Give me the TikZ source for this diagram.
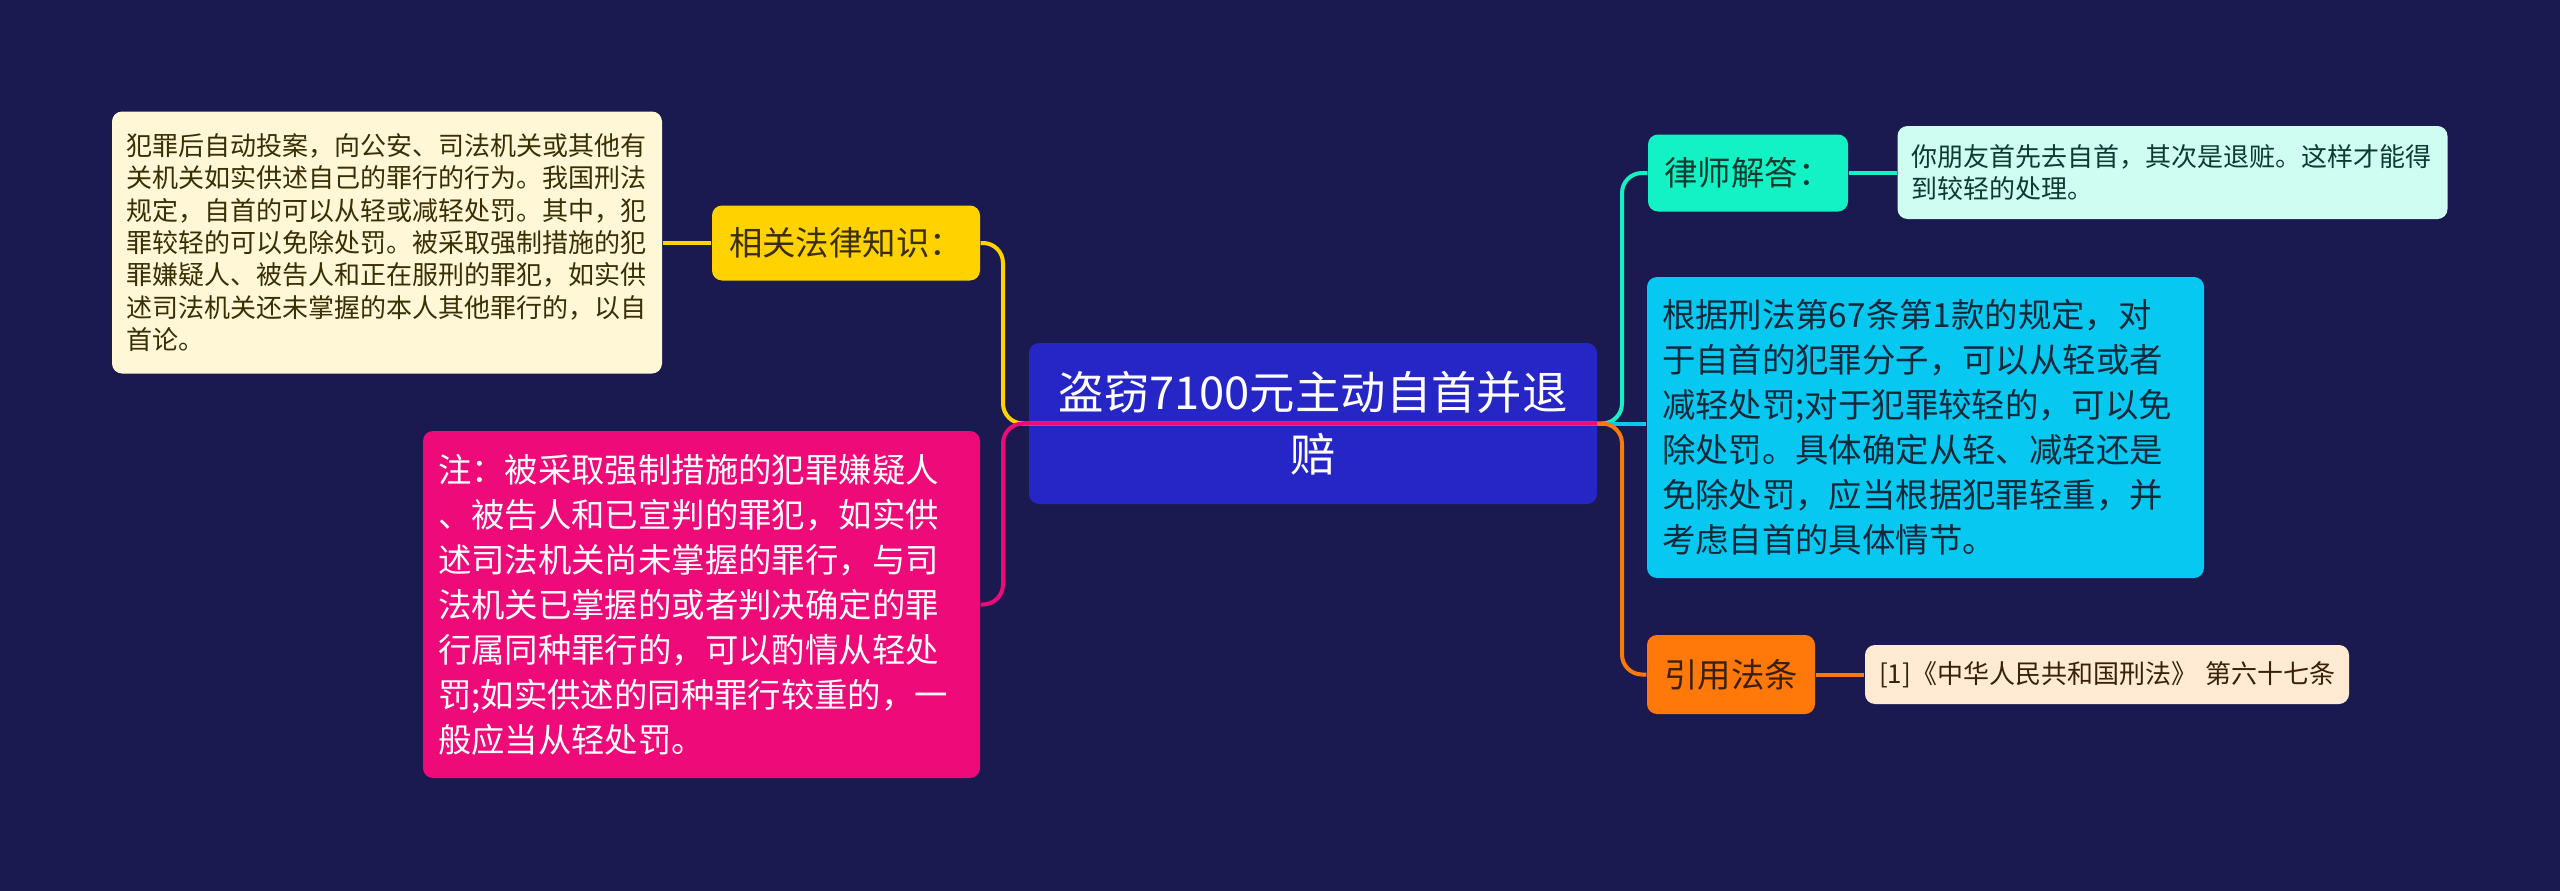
\documentclass[tikz,border=0pt]{standalone}
\usepackage{fontspec}
\setmainfont{Noto Sans CJK SC}
\usetikzlibrary{calc}
\definecolor{bgnavy}{HTML}{1A1A50}
\definecolor{rootblue}{HTML}{2626C6}
\definecolor{yel}{HTML}{FFD200}
\definecolor{yelleaf}{HTML}{FFF7D6}
\definecolor{pnk}{HTML}{EE0A78}
\definecolor{teal}{HTML}{12F2C4}
\definecolor{tealleaf}{HTML}{CFFDF1}
\definecolor{cyn}{HTML}{06C8F0}
\definecolor{org}{HTML}{FF780A}
\definecolor{orgleaf}{HTML}{FFEBD4}
\definecolor{txtyel}{HTML}{3A2E05}
\definecolor{txtteal}{HTML}{0E3A30}
\definecolor{txtcyn}{HTML}{10293A}
\definecolor{txtorg}{HTML}{3A2008}
\newcommand{\leaffont}{\fontsize{7.4}{9.2}\selectfont}
\newcommand{\branchfont}{\fontsize{9.5}{12.8}\selectfont}
\newcommand{\rootfont}{\fontsize{12.9}{17.6}\selectfont}
\tikzset{
  box/.style={rounded corners=1mm, inner ysep=0pt},
  topic/.style={box, font=\branchfont, align=center, inner xsep=0pt},
  textbox/.style={box, align=left, inner xsep=1.5mm},
  leaf/.style={textbox, font=\leaffont, inner xsep=1.4mm},
  link/.style={line width=0.4mm, rounded corners=2mm},
}

\begin{document}
\begin{tikzpicture}[x=0.1mm,y=-0.1mm]
\fill[bgnavy] (0,0) rectangle (2560,891);
\coordinate (lx) at (1003,0);
\coordinate (rx) at (1622,0);

\node[box, fill=rootblue, text=white, font=\rootfont, align=center,
  minimum width=56.8mm, minimum height=16.1mm, inner xsep=0pt] (root) at (1313,423.5)
  {盗窃7100元主动自首并退\\赔};

% left side
\node[topic, fill=yel, text=txtyel, minimum width=26.8mm, minimum height=7.5mm] (law) at (846,243)
  {相关法律知识：};
\node[leaf, fill=yelleaf, text=txtyel, text width=52.2mm, minimum height=26.2mm] (lawleaf) at (387,242.5)
  {犯罪后自动投案，向公安、司法机关或其他有\\
   关机关如实供述自己的罪行的行为。我国刑法\\
   规定，自首的可以从轻或减轻处罚。其中，犯\\
   罪较轻的可以免除处罚。被采取强制措施的犯\\
   罪嫌疑人、被告人和正在服刑的罪犯，如实供\\
   述司法机关还未掌握的本人其他罪行的，以自\\
   首论。};
\node[textbox, fill=pnk, text=white, font=\branchfont, text width=52.7mm, minimum height=34.7mm] (note) at (701.5,604.5)
  {注：被采取强制措施的犯罪嫌疑人\\
   、被告人和已宣判的罪犯，如实供\\
   述司法机关尚未掌握的罪行，与司\\
   法机关已掌握的或者判决确定的罪\\
   行属同种罪行的，可以酌情从轻处\\
   罚;如实供述的同种罪行较重的，一\\
   般应当从轻处罚。};

% right side
\node[topic, fill=teal, text=txtteal, minimum width=20mm, minimum height=7.7mm] (answer) at (1748,173)
  {律师解答：};
\node[leaf, fill=tealleaf, text=txtteal, text width=52.2mm, minimum height=9.3mm] (answerleaf) at (2172.5,172.5)
  {你朋友首先去自首，其次是退赃。这样才能得\\
   到较轻的处理。};
\node[textbox, fill=cyn, text=txtcyn, font=\branchfont, text width=52.7mm, minimum height=30.1mm] (basis) at (1925.5,427.5)
  {根据刑法第67条第1款的规定，对\\
   于自首的犯罪分子，可以从轻或者\\
   减轻处罚;对于犯罪较轻的，可以免\\
   除处罚。具体确定从轻、减轻还是\\
   免除处罚，应当根据犯罪轻重，并\\
   考虑自首的具体情节。};
\node[topic, fill=org, text=txtorg, minimum width=16.8mm, minimum height=7.9mm] (cite) at (1731,674.5)
  {引用法条};
\node[leaf, fill=orgleaf, text=txtorg, text width=45.6mm, minimum height=5.9mm] (citeleaf) at (2107,674.5)
  {[1]《中华人民共和国刑法》~第六十七条};

% connectors
\draw[link, yel] (law.east) -- (law.east -| lx) -- (root.east -| lx) -- (root.east);
\draw[link, yel] (law.west) -- (law.west -| lawleaf.east);
\draw[link, pnk] (root.east) -- (root.east -| lx) -- (note.east -| lx) -- (note.east);
\draw[link, teal] (root.east) -- (root.east -| rx) -- (answer.west -| rx) -- (answer.west);
\draw[link, teal] (answer.east) -- (answer.east -| answerleaf.west);
\draw[link, cyn] (root.east) -- (root.east -| basis.west);
\draw[link, org] (root.east) -- (root.east -| rx) -- (cite.west -| rx) -- (cite.west);
\draw[link, org] (cite.east) -- (cite.east -| citeleaf.west);
\end{tikzpicture}
\end{document}
